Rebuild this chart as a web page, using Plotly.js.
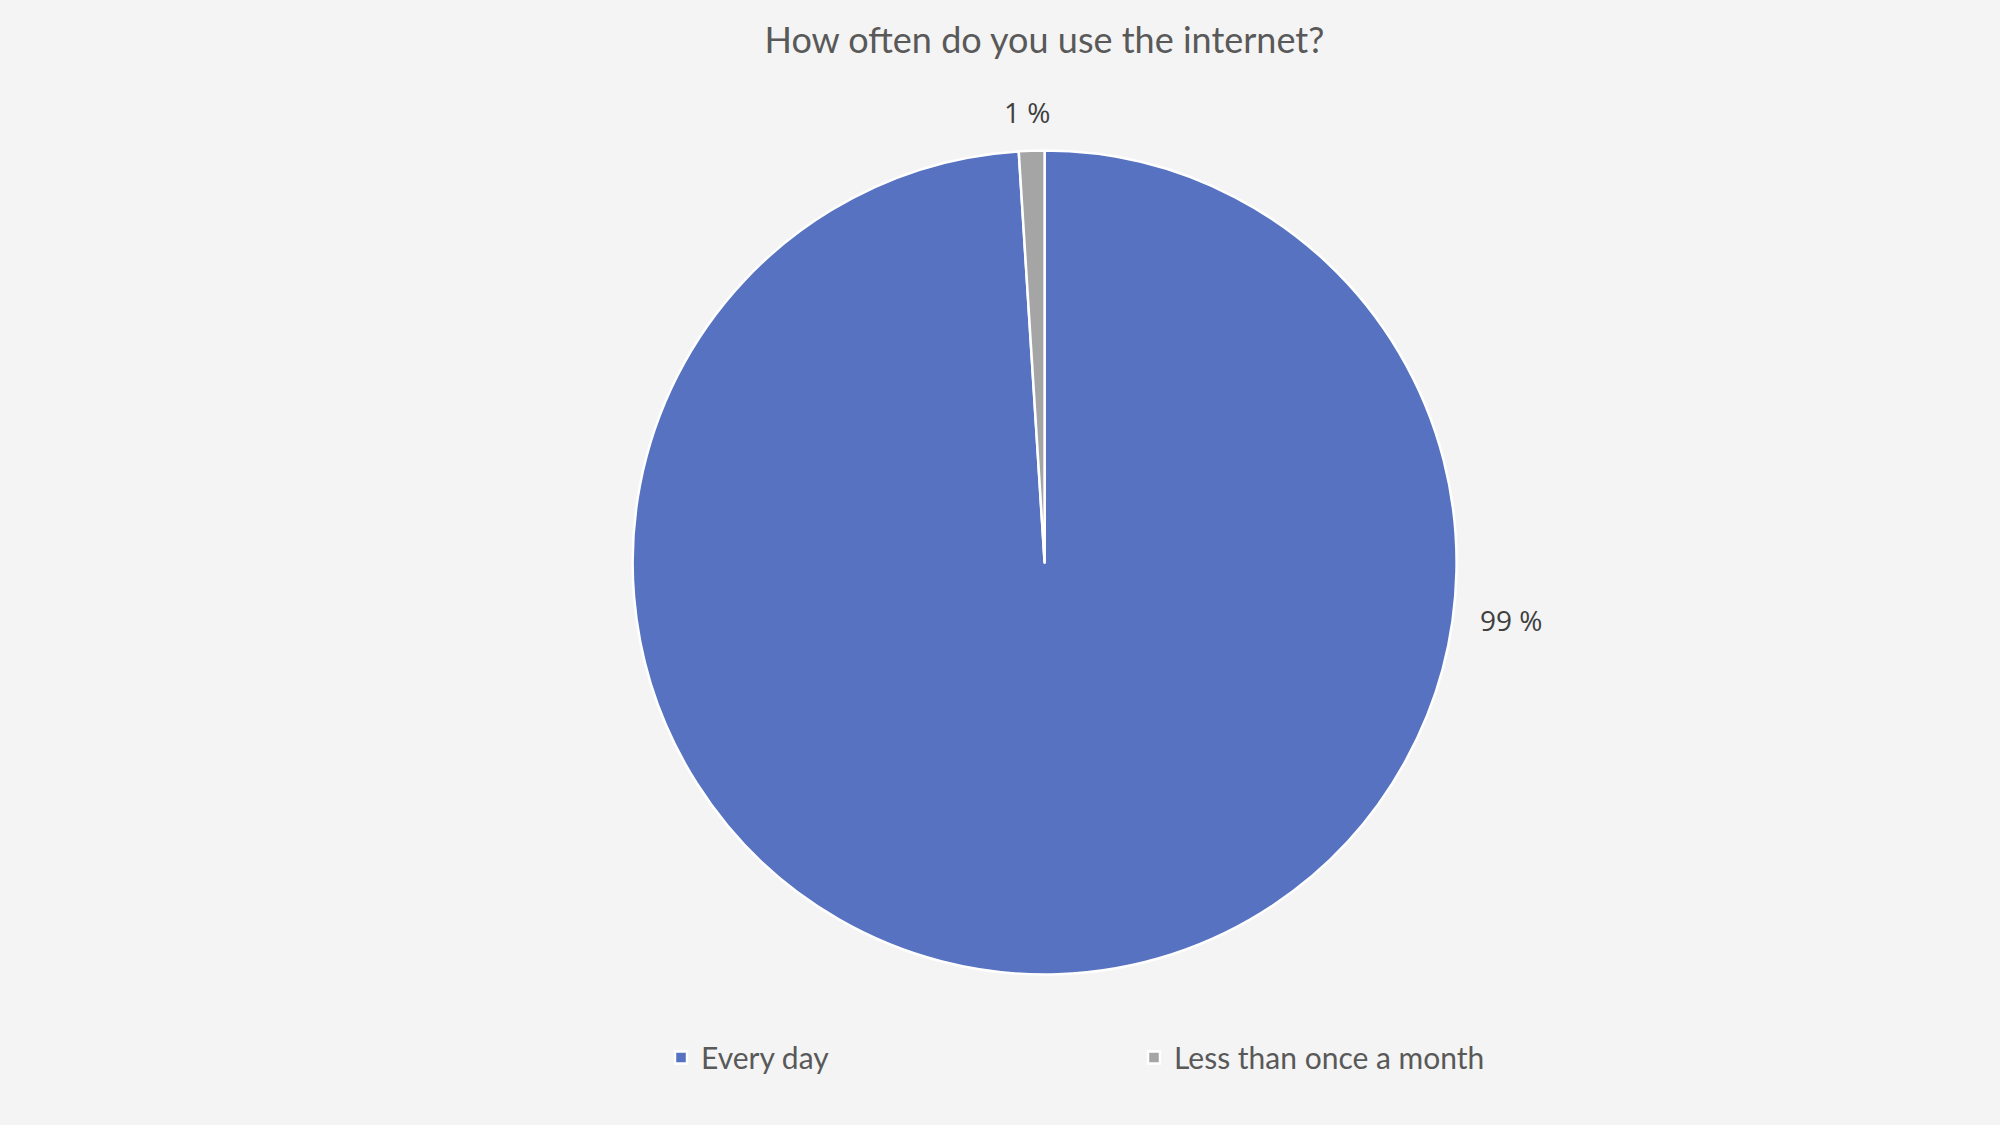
<!DOCTYPE html>
<html>
<head>
<meta charset="utf-8">
<script src="https://cdn.plot.ly/plotly-3.0.1.min.js"></script>
<style>
html,body{margin:0;padding:0;background:#f4f4f4;}
#chart{width:2000px;height:1125px;}
</style>
</head>
<body>
<div id="chart"></div>
<script>
var categories = ["Every day", "Less than once a month"];
var values = [99, 1];
var valueLabels = ["99 %", "1 %"];
var colors = ["#5672c0", "#a5a5a5"];
var chartTitle = "How often do you use the internet?";

var trace = {
  type: "pie",
  labels: categories,
  values: values,
  sort: false,
  direction: "clockwise",
  rotation: 0,
  textinfo: "none",
  hoverinfo: "label+percent",
  marker: {colors: colors, line: {color: "#ffffff", width: 2.5}},
  domain: {x: [0.3163, 0.7283], y: [0.1338, 0.8662]},
  showlegend: true
};

var layout = {
  width: 2000,
  height: 1125,
  paper_bgcolor: "#f4f4f4",
  plot_bgcolor: "#f4f4f4",
  margin: {l: 0, r: 0, t: 0, b: 0},
  title: {
    text: chartTitle,
    font: {family: "Lato, 'Open Sans', sans-serif", size: 36, color: "#595959"},
    x: 0.5222, xanchor: "center",
    y: 0.964, yanchor: "middle"
  },
  legend: {
    orientation: "h",
    x: 0.3305, xanchor: "left",
    y: 0.06, yanchor: "middle",
    entrywidth: 428,
    entrywidthmode: "pixels",
    font: {family: "Lato, 'Open Sans', sans-serif", size: 30, color: "#595959"},
    itemclick: false
  },
  annotations: [
    {text: valueLabels[0], xref: "paper", yref: "paper", x: 0.7555, y: 0.449,
     showarrow: false, xanchor: "center", yanchor: "middle",
     font: {family: "'Open Sans', sans-serif", size: 28, color: "#404040"}},
    {text: valueLabels[1], xref: "paper", yref: "paper", x: 0.5135, y: 0.9,
     showarrow: false, xanchor: "center", yanchor: "middle",
     font: {family: "'Open Sans', sans-serif", size: 28, color: "#404040"}}
  ]
};

Plotly.newPlot("chart", [trace], layout, {displayModeBar: false});
</script>
</body>
</html>
